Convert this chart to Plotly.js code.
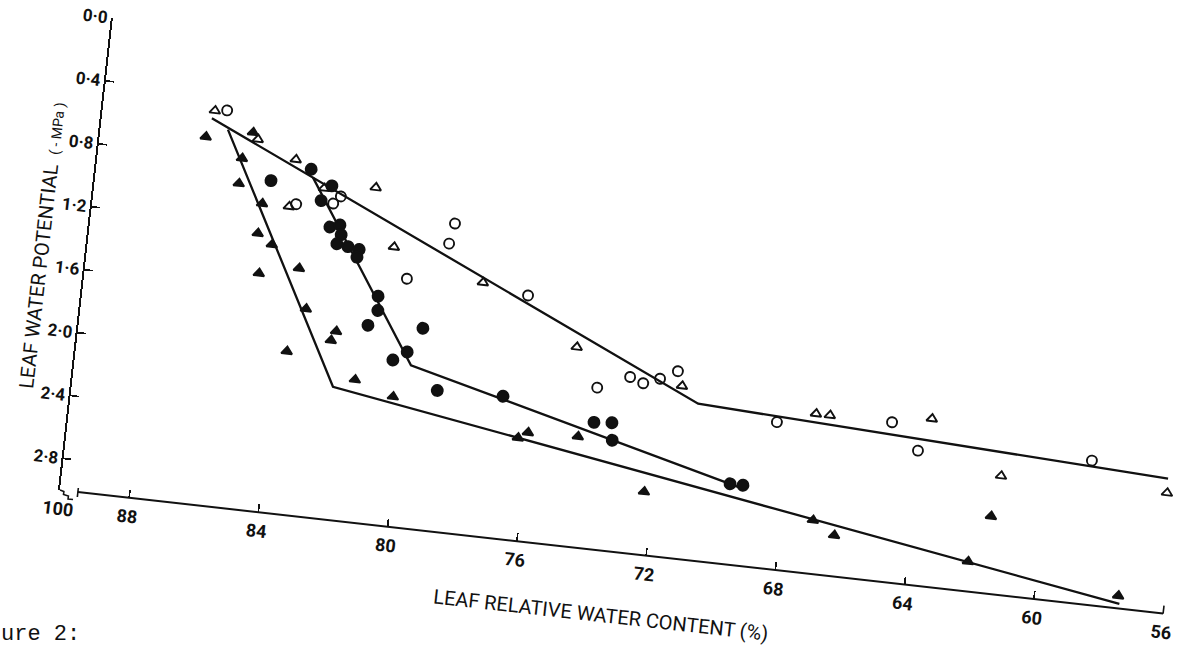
<!DOCTYPE html>
<html>
<head>
<meta charset="utf-8">
<script src="https://cdn.plot.ly/plotly-3.0.1.min.js"></script>
<style>
  html, body { margin: 0; padding: 0; width: 1179px; height: 647px; overflow: hidden; background: #ffffff; }
  #plot { position: absolute; left: -50px; top: -5px; width: 1250px; height: 585px;
          transform-origin: 110px 495px; transform: rotate(6.39deg); }
  #caption { position: absolute; left: 1px; top: 625px; font-family: "Liberation Mono", "DejaVu Sans Mono", monospace;
             font-size: 22px; line-height: 20px; height: 20px; color: #111; white-space: pre; }
</style>
</head>
<body>
<div id="plot"></div>
<div id="caption">ure 2:</div>
<script>
// ---- axis ticks ----
const xTickVals = [90.14, 88, 84, 80, 76, 72, 68, 64, 60, 56];
const xTickText = ['100', '88', '84', '80', '76', '72', '68', '64', '60', '56'];
const yTickVals = [0, 0.4, 0.8, 1.2, 1.6, 2.0, 2.4, 2.8];
const yTickText = ['0·0', '0·4', '0·8', '1·2', '1·6', '2·0', '2·4', '2·8'];

// ---- titles ----
const xTitle = 'LEAF RELATIVE WATER CONTENT (%)';
const yTitleMain = 'LEAF WATER POTENTIAL';
const yTitleUnit = '( - MPa )';

// ---- series: leaf relative water content (%) vs leaf water potential (-MPa) ----
const openTriX = [86.70, 85.29, 84.06, 83.10, 81.52, 84.11, 80.76, 77.92, 74.83, 71.48, 67.29, 66.86, 63.73, 61.42, 56.29];
const openTriY = [0.51, 0.66, 0.76, 0.92, 0.88, 1.06, 1.24, 1.40, 1.74, 1.91, 1.99, 1.99, 1.94, 2.25, 2.24];

const openCircX = [86.33, 82.56, 82.77, 83.90, 78.98, 79.09, 80.26, 76.50, 74.07, 73.10, 72.68, 72.18, 71.66, 68.46, 64.94, 64.05, 58.70];
const openCircY = [0.50, 0.96, 1.01, 1.04, 1.05, 1.18, 1.43, 1.45, 1.98, 1.89, 1.92, 1.88, 1.82, 2.07, 1.99, 2.15, 2.09];

const filledCircX = [84.75, 83.56, 82.87, 83.15, 82.79, 82.49, 82.42, 82.52, 82.17, 81.82, 81.86, 81.08, 81.04, 81.29, 79.60, 80.00, 80.41, 78.95, 76.92, 74.05, 73.50, 73.43, 69.68, 69.28];
const filledCircY = [0.91, 0.81, 0.90, 1.00, 1.16, 1.14, 1.20, 1.26, 1.27, 1.28, 1.33, 1.56, 1.65, 1.75, 1.73, 1.89, 1.95, 2.11, 2.10, 2.20, 2.19, 2.30, 2.49, 2.49];

const filledTriX = [86.89, 85.46, 85.71, 85.72, 84.94, 84.97, 84.50, 83.59, 84.80, 83.24, 82.24, 82.37, 83.68, 81.50, 80.28, 76.03, 76.32, 74.49, 72.28, 67.02, 66.32, 61.59, 62.14, 57.43];
const filledTriY = [0.68, 0.62, 0.79, 0.95, 1.06, 1.25, 1.31, 1.44, 1.50, 1.69, 1.81, 1.87, 1.97, 2.10, 2.18, 2.31, 2.35, 2.30, 2.60, 2.66, 2.74, 2.51, 2.81, 2.92];

// ---- fitted broken lines ----
const fitOpenX = [86.77, 70.93, 56.31];
const fitOpenY = [0.56, 2.01, 2.15];
const fitFilledCircX = [83.48, 79.84, 69.30];
const fitFilledCircY = [0.86, 1.97, 2.51];
const fitFilledTriX = [86.24, 82.15, 57.37];
const fitFilledTriY = [0.62, 2.16, 2.97];

// ---- ranges ----
const xRange = [90.14, 56];
const yRange = [3.0, 0];

const INK = '#111111';
const LBL_FONT = 'Roboto, "DejaVu Sans", sans-serif';
const plotW = 1110, plotH = 475;
const px = v => v / plotW;
const py = v => v / plotH;

function fitLine(x, y) {
  return { x: x, y: y, type: 'scatter', mode: 'lines', line: { color: INK, width: 2.3 },
           showlegend: false, hoverinfo: 'skip', cliponaxis: false };
}
function pts(x, y, symbol, size) {
  return { x: x, y: y, type: 'scatter', mode: 'markers', showlegend: false, cliponaxis: false,
           marker: { symbol: symbol, size: size, color: INK, line: { color: INK, width: 1.9 } } };
}

const traces = [
  fitLine(fitOpenX, fitOpenY),
  fitLine(fitFilledCircX, fitFilledCircY),
  fitLine(fitFilledTriX, fitFilledTriY),
  pts(openTriX, openTriY, 'triangle-up-open', 9.5),
  pts(openCircX, openCircY, 'circle-open', 10),
  pts(filledCircX, filledCircY, 'circle', 11),
  pts(filledTriX, filledTriY, 'triangle-up', 9.5)
];

const layout = {
  width: 1250, height: 585,
  margin: { l: 110, r: 30, t: 20, b: 90, pad: 0 },
  paper_bgcolor: 'rgba(0,0,0,0)', plot_bgcolor: 'rgba(0,0,0,0)',
  showlegend: false,
  xaxis: {
    range: xRange, showgrid: false, zeroline: false, showline: false,
    tickmode: 'array', tickvals: xTickVals, ticktext: xTickText,
    ticks: 'inside', ticklen: 8, tickwidth: 1.6, tickcolor: INK,
    ticklabelstandoff: 6,
    tickfont: { family: LBL_FONT, size: 18, color: INK, weight: 'bold' }
  },
  yaxis: {
    range: yRange, showgrid: false, zeroline: false, showline: true, linecolor: INK, linewidth: 2,
    tickmode: 'array', tickvals: yTickVals, ticktext: yTickText,
    ticks: 'inside', ticklen: 8, tickwidth: 1.6, tickcolor: INK,
    tickfont: { family: LBL_FONT, size: 17, color: INK, weight: 'bold' }
  },
  shapes: [
    // x axis line (after the break)
    { type: 'line', xref: 'paper', yref: 'paper', x0: px(18), x1: 1, y0: 0, y1: 0, line: { color: INK, width: 2 } },
    // axis break squiggle
    { type: 'path', xref: 'paper', yref: 'paper',
      path: 'M0,0 L' + px(4) + ',' + py(-1) + ' L' + px(4) + ',' + py(-4) + ' L' + px(9) + ',' + py(-5) + ' L' + px(9) + ',' + py(-8) + ' L' + px(14) + ',' + py(-8),
      line: { color: INK, width: 1.6 } },
    { type: 'line', xref: 'paper', yref: 'paper', x0: px(18), x1: px(18), y0: py(-5), y1: py(4), line: { color: INK, width: 1.6 } },
    // end tick of x axis at 56
    { type: 'line', xref: 'paper', yref: 'paper', x0: 1, x1: 1, y0: 0, y1: py(8), line: { color: INK, width: 1.6 } }
  ],
  annotations: [
    { xref: 'paper', yref: 'paper', x: px(551), y: py(-64), xanchor: 'center', yanchor: 'middle', showarrow: false,
      text: xTitle, font: { family: LBL_FONT, size: 20, color: INK } },
    { xref: 'paper', yref: 'paper', x: px(-45), y: py(241), xanchor: 'center', yanchor: 'middle', showarrow: false,
      textangle: -90,
      text: yTitleMain + '  <span style="font-size:14px">' + yTitleUnit + '</span>',
      font: { family: LBL_FONT, size: 20, color: INK } }
  ]
};

Plotly.newPlot('plot', traces, layout, { displayModeBar: false, staticPlot: true });
</script>
</body>
</html>
